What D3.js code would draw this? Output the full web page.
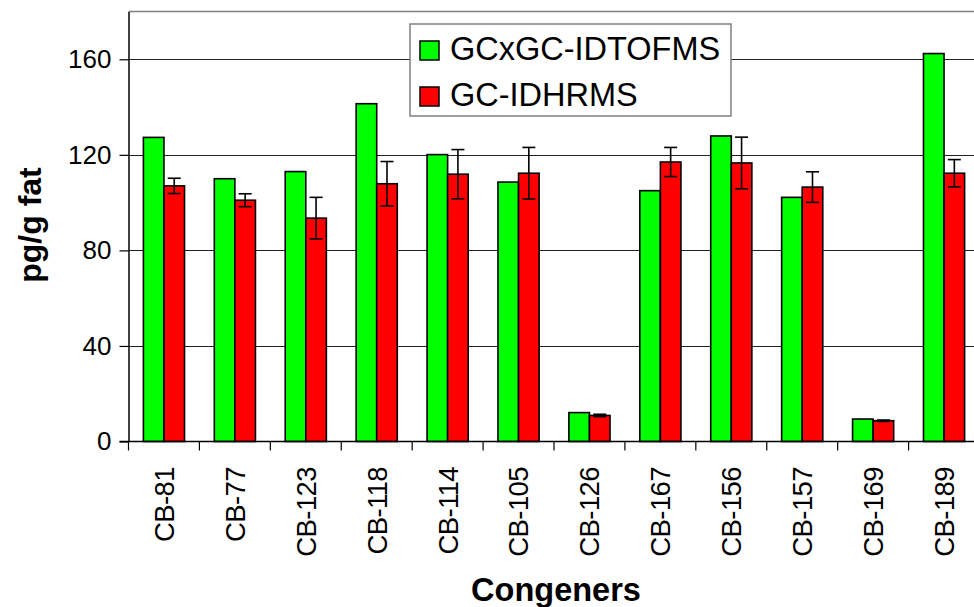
<!DOCTYPE html>
<html>
<head>
<meta charset="utf-8">
<script src="https://cdn.jsdelivr.net/npm/d3@7"></script>
<style>
  body { margin: 0; background: #fff; }
  svg { display: block; font-family: Arial, "Liberation Sans", sans-serif; }
</style>
</head>
<body>
<div id="chart"></div>
<script>
var width = 974;
var height = 607;

// data
var congeners = ["CB-81", "CB-77", "CB-123", "CB-118", "CB-114", "CB-105", "CB-126", "CB-167", "CB-156", "CB-157", "CB-169", "CB-189"];
var seriesNames = ["GCxGC-IDTOFMS", "GC-IDHRMS"];
var gcxgcValues = [127.3, 110.0, 113.0, 141.4, 120.1, 108.6, 12.1, 105.0, 127.9, 102.2, 9.4, 162.4];
var hrmsValues = [107.0, 101.0, 93.5, 107.9, 111.9, 112.3, 10.9, 117.0, 116.6, 106.5, 8.7, 112.3];
var hrmsErrors = [3.2, 2.7, 8.7, 9.3, 10.3, 10.8, 0.5, 6.1, 10.8, 6.4, 0.3, 5.7];
var yTicks = [0, 40, 80, 120, 160];
var colors = ["#00ff00", "#ff0000"];

var margin = {top: 11.5, left: 128.5, bottom: 441.5, right: 979.5};

var svg = d3.select("#chart")
    .append("svg")
    .attr("width", width)
    .attr("height", height);

var x0 = d3.scaleBand()
    .domain(congeners)
    .range([margin.left, margin.right])
    .paddingInner(0.42)
    .paddingOuter(0.21);

var x1 = d3.scaleBand()
    .domain(seriesNames)
    .range([0, x0.bandwidth()]);

var y = d3.scaleLinear()
    .domain([0, 180])
    .range([margin.bottom, margin.top]);

var color = d3.scaleOrdinal().domain(seriesNames).range(colors);

var rows = congeners.map(function(c, i){
    return {
        name: c,
        values: [
            {series: seriesNames[0], value: gcxgcValues[i], err: 0},
            {series: seriesNames[1], value: hrmsValues[i], err: hrmsErrors[i]}
        ]
    };
});

// plot frame (top line)
svg.append("line")
    .attr("x1", margin.left).attr("x2", width)
    .attr("y1", margin.top).attr("y2", margin.top)
    .attr("stroke", "#808080")
    .attr("stroke-width", 1.5);

// gridlines
svg.append("g")
    .selectAll("line")
    .data(yTicks.filter(function(d){ return d > 0; }))
    .enter()
    .append("line")
    .attr("x1", margin.left).attr("x2", width)
    .attr("y1", function(d){ return Math.round(y(d)) + 0.5; })
    .attr("y2", function(d){ return Math.round(y(d)) + 0.5; })
    .attr("stroke", "#222")
    .attr("stroke-width", 1);

// y axis
var yAxis = svg.append("g")
    .attr("transform", "translate(" + margin.left + ",0)")
    .call(d3.axisLeft(y).tickValues(yTicks).tickSize(9).tickPadding(8).tickSizeOuter(0));
yAxis.select(".domain").attr("stroke", "#000").attr("stroke-width", 1.5);
yAxis.selectAll(".tick line").attr("stroke", "#000").attr("stroke-width", 1.2);
yAxis.selectAll(".tick text")
    .attr("font-size", 26)
    .attr("fill", "#000")
    .attr("font-family", "Arial, 'Liberation Sans', sans-serif");

// bars
var groups = svg.append("g")
    .selectAll("g")
    .data(rows)
    .enter()
    .append("g")
    .attr("transform", function(d){ return "translate(" + x0(d.name) + ",0)"; });

groups.selectAll("rect")
    .data(function(d){ return d.values; })
    .enter()
    .append("rect")
    .attr("x", function(d){ return x1(d.series); })
    .attr("y", function(d){ return y(d.value); })
    .attr("width", x1.bandwidth())
    .attr("height", function(d){ return y(0) - y(d.value); })
    .attr("fill", function(d){ return color(d.series); })
    .attr("stroke", "#000")
    .attr("stroke-width", 1.6);

// error bars on GC-IDHRMS
var errs = groups.selectAll("g.err")
    .data(function(d){ return d.values.filter(function(v){ return v.err > 0; }); })
    .enter()
    .append("g")
    .attr("class", "err")
    .attr("stroke", "#000")
    .attr("stroke-width", 1.6);

errs.append("line")
    .attr("x1", function(d){ return x1(d.series) + x1.bandwidth() / 2; })
    .attr("x2", function(d){ return x1(d.series) + x1.bandwidth() / 2; })
    .attr("y1", function(d){ return y(d.value + d.err); })
    .attr("y2", function(d){ return y(d.value - d.err); });

errs.selectAll("line.cap")
    .data(function(d){ return [d.value + d.err, d.value - d.err].map(function(v){ return {series: d.series, v: v}; }); })
    .enter()
    .append("line")
    .attr("class", "cap")
    .attr("x1", function(d){ return x1(d.series) + x1.bandwidth() / 2 - 6.5; })
    .attr("x2", function(d){ return x1(d.series) + x1.bandwidth() / 2 + 6.5; })
    .attr("y1", function(d){ return y(d.v); })
    .attr("y2", function(d){ return y(d.v); });

// x axis line and ticks between categories
svg.append("line")
    .attr("x1", margin.left - 9).attr("x2", width)
    .attr("y1", y(0)).attr("y2", y(0))
    .attr("stroke", "#000")
    .attr("stroke-width", 1.5);

var step = x0.step();
svg.append("g")
    .selectAll("line")
    .data(congeners)
    .enter()
    .append("line")
    .attr("x1", function(d){ return x0(d) - x0.paddingOuter() * step; })
    .attr("x2", function(d){ return x0(d) - x0.paddingOuter() * step; })
    .attr("y1", y(0))
    .attr("y2", y(0) + 9)
    .attr("stroke", "#000")
    .attr("stroke-width", 1.2);

// category labels
svg.append("g")
    .selectAll("text")
    .data(congeners)
    .enter()
    .append("text")
    .attr("transform", function(d){ return "translate(" + (x0(d) + x0.bandwidth() / 2) + ",467) rotate(-90)"; })
    .attr("text-anchor", "end")
    .attr("dy", "0.36em")
    .attr("font-size", 27.5)
    .attr("letter-spacing", -0.6)
    .text(function(d){ return d; });

// axis titles
svg.append("text")
    .attr("x", 556)
    .attr("y", 601)
    .attr("text-anchor", "middle")
    .attr("font-size", 32.5)
    .attr("font-weight", "bold")
    .text("Congeners");

svg.append("text")
    .attr("transform", "translate(41,225) rotate(-90)")
    .attr("text-anchor", "middle")
    .attr("font-size", 32)
    .attr("font-weight", "bold")
    .text("pg/g fat");

// legend
var legend = svg.append("g")
    .attr("transform", "translate(410,24)");

legend.append("rect")
    .attr("width", 321)
    .attr("height", 92)
    .attr("fill", "#fff")
    .attr("stroke", "#808080")
    .attr("stroke-width", 1.5);

var items = legend.selectAll("g.item")
    .data(seriesNames)
    .enter()
    .append("g")
    .attr("class", "item")
    .attr("transform", function(d, i){ return "translate(10," + (17 + i * 46) + ")"; });

items.append("rect")
    .attr("width", 19)
    .attr("height", 19)
    .attr("fill", function(d){ return color(d); })
    .attr("stroke", "#000")
    .attr("stroke-width", 1.5);

items.append("text")
    .attr("x", 30)
    .attr("y", 18.5)
    .attr("font-size", 32.5)
    .text(function(d){ return d; });
</script>
</body>
</html>
